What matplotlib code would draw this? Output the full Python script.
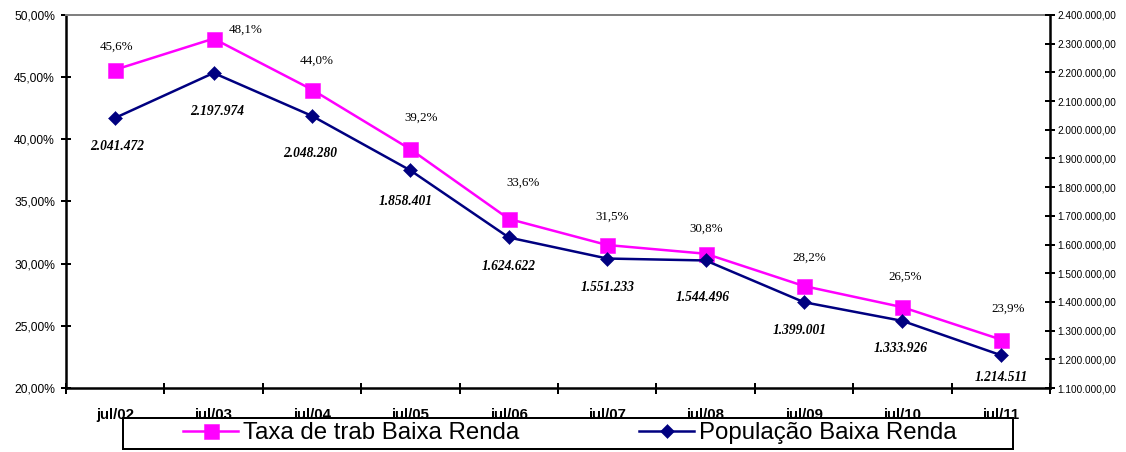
import numpy as np
import matplotlib
matplotlib.use("Agg")
import matplotlib.pyplot as plt
from matplotlib.patches import Rectangle
from matplotlib.ticker import FuncFormatter, FixedLocator, NullFormatter

# dados da série
periodos = ['jul/02', 'jul/03', 'jul/04', 'jul/05', 'jul/06',
            'jul/07', 'jul/08', 'jul/09', 'jul/10', 'jul/11']
taxa = [45.6, 48.1, 44.0, 39.2, 33.6, 31.5, 30.8, 28.2, 26.5, 23.9]
populacao = [2041472, 2197974, 2048280, 1858401, 1624622,
             1551233, 1544496, 1399001, 1333926, 1214511]

# deslocamento dos rótulos (pontos)
desl_taxa = [(1, 23), (32, 9), (5, 29), (11, 32), (14, 36),
             (5, 28), (1, 25), (5, 28), (3, 30), (7, 31)]
desl_pop = [(2, -29), (4, -39), (-2, -38), (-5, -31), (0, -29),
            (0, -29), (-3, -37), (-4, -28), (-2, -28), (1, -22)]

MAGENTA = '#FF00FF'
NAVY = '#000080'
SANS = 'Liberation Sans'
SERIF = 'Liberation Serif'

W, H, DPI = 1126, 452, 72
fig = plt.figure(figsize=(W / DPI, H / DPI), dpi=DPI)
ax = fig.add_axes([66 / W, (H - 388) / H, (1050 - 66) / W, (388 - 15) / H])
ax2 = ax.twinx()

x = np.arange(len(periodos)) + 0.5

l1, = ax.plot(x, taxa, color=MAGENTA, lw=2.5, marker='s', ms=15,
              mec=MAGENTA, mew=0.5, label='Taxa de trab Baixa Renda')
l2, = ax2.plot(x, populacao, color=NAVY, lw=2.5, marker='D', ms=9.5,
               mec=NAVY, mew=0.5, label='População Baixa Renda')

for xi, v, d in zip(x, taxa, desl_taxa):
    ax.annotate(f'{v:.1f}%'.replace('.', ','), (xi, v), xytext=d,
                textcoords='offset points', ha='center', va='center',
                fontsize=13, family=SERIF)
for xi, v, d in zip(x, populacao, desl_pop):
    ax2.annotate(f'{v:,}'.replace(',', '.'), (xi, v), xytext=d,
                 textcoords='offset points', ha='center', va='center',
                 fontsize=13.5, family=SERIF, fontweight='bold', style='italic')

# eixo x: traços nas divisões, rótulos no centro das categorias
ax.set_xlim(0, len(periodos))
ax.xaxis.set_major_locator(FixedLocator(np.arange(len(periodos) + 1)))
ax.xaxis.set_major_formatter(NullFormatter())
ax.xaxis.set_minor_locator(FixedLocator(x))
ax.set_xticklabels(periodos, minor=True)
ax.tick_params(axis='x', which='major', direction='inout', length=11, width=2)
ax.tick_params(axis='x', which='minor', length=0, pad=20, labelsize=15)
for t in ax.get_xticklabels(minor=True):
    t.set_family(SANS)
    t.set_fontweight('bold')

ax.set_ylim(20, 50)
ax.set_yticks(np.arange(20, 51, 5))
ax.yaxis.set_major_formatter(FuncFormatter(lambda v, p: f'{v:.2f}%'.replace('.', ',')))
ax.tick_params(axis='y', direction='inout', length=10, width=2, pad=6, labelsize=12)

ax2.set_ylim(1100000, 2400000)
ax2.set_yticks(np.arange(1100000, 2400001, 100000))
ax2.yaxis.set_major_formatter(FuncFormatter(
    lambda v, p: f'{v:,.2f}'.replace(',', '#').replace('.', ',').replace('#', '.')))
ax2.tick_params(axis='y', direction='inout', length=10, width=2, pad=2, labelsize=10)

for a in (ax, ax2):
    for t in a.get_yticklabels():
        t.set_family(SANS)

for s in ('left', 'bottom'):
    ax.spines[s].set_linewidth(2.5)
    ax.spines[s].set_color('black')
ax.spines['top'].set_color('#808080')
ax.spines['top'].set_linewidth(2)
ax.spines['right'].set_visible(False)
for s in ('left', 'bottom', 'top'):
    ax2.spines[s].set_visible(False)
ax2.spines['right'].set_linewidth(2.5)
ax2.spines['right'].set_color('black')

# caixa da legenda sobre os rótulos do eixo x
fig.patches.append(Rectangle((123 / W, (H - 449) / H), 890 / W, 31 / H,
                             transform=fig.transFigure, facecolor='white',
                             edgecolor='black', lw=2, zorder=3))
fig.legend(handles=[l1, l2], loc='center left',
           bbox_to_anchor=(183 / W, (H - 433) / H), ncol=2, frameon=False,
           borderpad=0, borderaxespad=0, handlelength=55 / 24,
           handletextpad=5 / 24, columnspacing=120 / 24,
           prop={'family': SANS, 'size': 24})

fig.savefig('out.png', dpi=DPI)
